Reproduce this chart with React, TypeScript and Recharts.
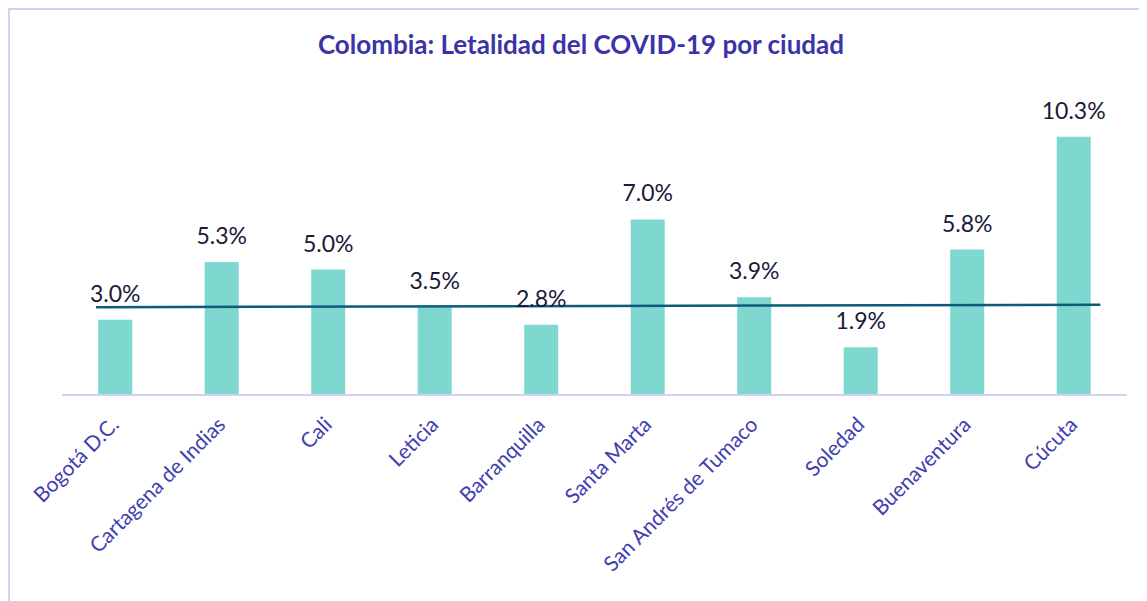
import {Bar, ComposedChart, LabelList, ReferenceLine, XAxis, YAxis} from 'recharts';

const cities = [
  'Bogotá D.C.',
  'Cartagena de Indias',
  'Cali',
  'Leticia',
  'Barranquilla',
  'Santa Marta',
  'San Andrés de Tumaco',
  'Soledad',
  'Buenaventura',
  'Cúcuta',
];
const lethality = [3.0, 5.3, 5.0, 3.5, 2.8, 7.0, 3.9, 1.9, 5.8, 10.3];

// line drawn across the cities (start / end value)
const lineStart = 3.5;
const lineEnd = 3.6;

const data = cities.map((city, i) => ({ city, idx: i, value: lethality[i] }));

function AngledTick({ x, y, payload }: any) {
  return (
    <text
      x={x + 5}
      y={y + 31}
      transform={`rotate(-45, ${x + 5}, ${y + 31})`}
      textAnchor="end"
      fill="#4040b0"
      fontSize={21}
      fontFamily="Lato, 'Open Sans', sans-serif"
    >
      {payload.value}
    </text>
  );
}

export default function App() {
  return (
    <div
      style={{
        position: 'relative',
        width: 1139,
        height: 594,
        boxSizing: 'border-box',
        borderLeft: '2px solid #d4d0f4',
        borderTop: '2px solid #d4d0f4',
        fontFamily: "Lato, 'Open Sans', sans-serif",
        background: '#fff',
      }}
    >
      <div
        style={{
          position: 'absolute',
          top: 18,
          left: 0,
          width: 1142,
          textAlign: 'center',
          fontSize: 26,
          fontWeight: 700,
          color: '#3b33a8',
        }}
      >
        Colombia: Letalidad del COVID-19 por ciudad
      </div>
      <div style={{ position: 'absolute', top: 0, left: 0 }}>
        <ComposedChart
          width={1137}
          height={584}
          data={data}
          margin={{ top: 84, right: 20, left: 52, bottom: 19 }}
          barCategoryGap="34%"
        >
          <XAxis
            dataKey="city"
            interval={0}
            height={180}
            tickLine={false}
            tickSize={0}
            tickMargin={0}
            axisLine={{ stroke: '#d4d0f4', strokeWidth: 2 }}
            tick={<AngledTick />}
          />
          <XAxis xAxisId="pos" dataKey="idx" type="number" domain={[-0.5, 9.5]} allowDataOverflow hide />
          <YAxis hide domain={[0, 12]} />
          <Bar dataKey="value" fill="#7fd8d0" isAnimationActive={false}>
            <LabelList
              dataKey="value"
              position="top"
              offset={18}
              formatter={(v: any) => `${Number(v).toFixed(1)}%`}
              fill="#1a1a3a"
              fontSize={23}
              fontFamily="Lato, 'Open Sans', sans-serif"
            />
          </Bar>
          <ReferenceLine
            xAxisId="pos"
            segment={[
              { x: -0.18, y: lineStart },
              { x: 9.25, y: lineEnd },
            ]}
            stroke="#0e5a7c"
            strokeWidth={2.5}
            ifOverflow="visible"
          />
        </ComposedChart>
      </div>
    </div>
  );
}
